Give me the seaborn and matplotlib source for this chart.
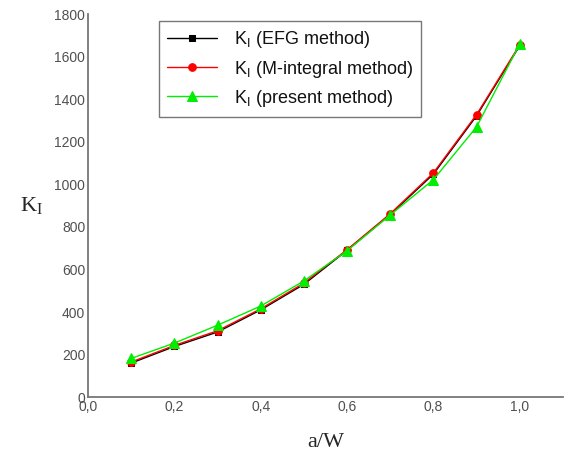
import matplotlib
matplotlib.use("Agg")
import matplotlib.pyplot as plt
import seaborn as sns
import pandas as pd

# a/W values and stress intensity factors
a_w = [0.1, 0.2, 0.3, 0.4, 0.5, 0.6, 0.7, 0.8, 0.9, 1.0]
k_efg = [160, 238, 306, 410, 530, 690, 858, 1048, 1322, 1652]
k_mint = [165, 243, 312, 415, 536, 693, 862, 1054, 1328, 1656]
k_present = [182, 254, 338, 428, 546, 688, 856, 1022, 1270, 1660]

methods = ['EFG method', 'M-integral method', 'present method']
colors = ['black', 'red', '#00ee00']
markers = ['s', 'o', '^']

df = pd.concat([
    pd.DataFrame({'a/W': a_w, 'KI': k, 'method': m})
    for k, m in zip([k_efg, k_mint, k_present], methods)
])

sns.set_style('white')
plt.rcParams['font.family'] = ['Liberation Sans', 'DejaVu Sans']
plt.rcParams['mathtext.default'] = 'regular'

fig = plt.figure(figsize=(5.68, 4.57), dpi=100)
ax = fig.add_axes([0.155, 0.131, 0.836, 0.838])

sizes = {'EFG method': 4, 'M-integral method': 5.5, 'present method': 6.5}
for m, c, mk in zip(methods, colors, markers):
    sns.lineplot(data=df[df['method'] == m], x='a/W', y='KI', color=c,
                 marker=mk, markersize=sizes[m], markeredgecolor=c,
                 linewidth=1, ax=ax, label=f'K$_I$ ({m})')

ax.set_xlim(0, 1.1)
ax.set_ylim(0, 1800)
ax.set_xticks([0, 0.2, 0.4, 0.6, 0.8, 1.0])
ax.set_xticklabels(['0,0', '0,2', '0,4', '0,6', '0,8', '1,0'])
ax.set_yticks(range(0, 1801, 200))
ax.tick_params(length=0, labelsize=10, colors='#505050', pad=2)

for s in ['top', 'right']:
    ax.spines[s].set_visible(False)
for s in ['left', 'bottom']:
    ax.spines[s].set_color('#777777')
    ax.spines[s].set_linewidth(1.3)

ax.set_xlabel('a/W', family='Liberation Serif', fontsize=16, labelpad=14)
ax.set_ylabel('K$_I$', family='Liberation Serif', fontsize=16, rotation=0,
              va='center')
ax.yaxis.set_label_coords(-0.12, 0.5)

leg = ax.legend(loc='upper left', bbox_to_anchor=(0.13, 1.005), fontsize=13,
                frameon=True, fancybox=False, edgecolor='#555555',
                handlelength=2.8, borderpad=0.45, labelspacing=0.45,
                handletextpad=0.9)
leg.get_frame().set_linewidth(1)
for t in leg.get_texts():
    t.set_color('#111111')

fig.savefig('out.png', dpi=100)
